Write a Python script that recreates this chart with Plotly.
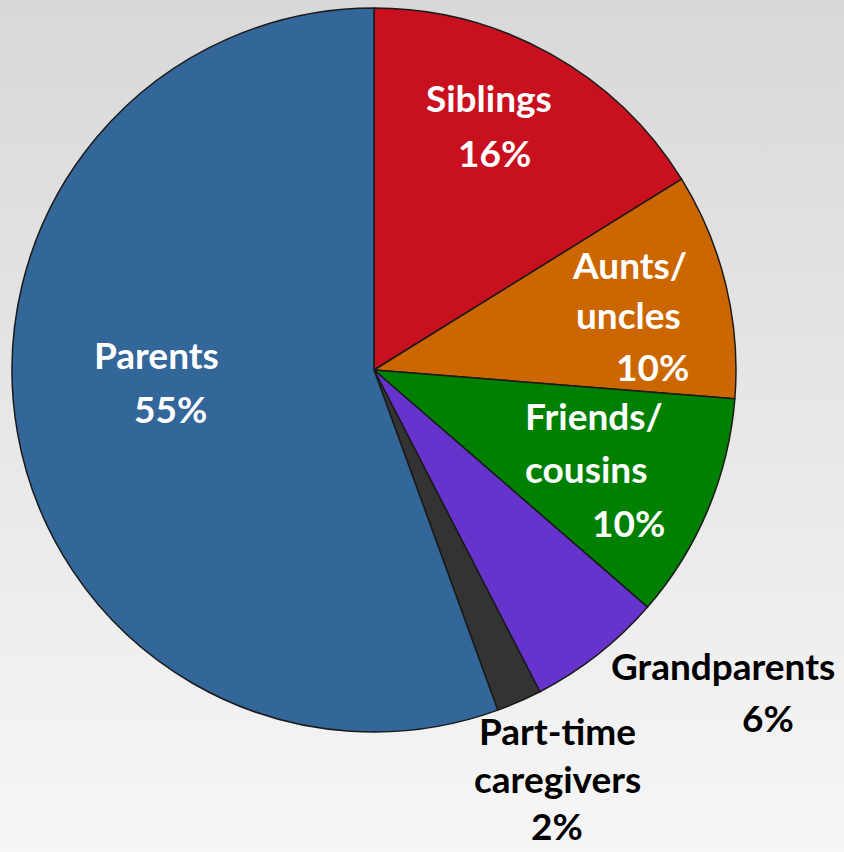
import plotly.graph_objects as go

# ---- data ----
categories = ["Siblings", "Aunts/uncles", "Friends/cousins", "Grandparents",
              "Part-time caregivers", "Parents"]
values = [16, 10, 10, 6, 2, 55]
label_lines = [["Siblings"], ["Aunts/", "uncles"], ["Friends/", "cousins"],
               ["Grandparents"], ["Part-time", "caregivers"], ["Parents"]]
slice_colors = ["#C8101F", "#CC6600", "#008000", "#6633CC", "#333333", "#336699"]
text_colors = ["white", "white", "white", "black", "black", "white"]

# ---- layout constants ----
W, H = 844, 852
cx, cy, R = 374, 370, 362
FONT = "Lato, 'Open Sans', sans-serif"
FS = 37
# pixel centres of each text line (name lines..., percent line)
line_pos = [
    [(489, 97), (494, 152)],
    [(629, 264), (628, 314), (652, 366)],
    [(594, 415), (586, 468), (628, 522)],
    [(723, 665), (768, 717)],
    [(557, 730), (557, 778), (557, 825)],
    [(156, 354), (170, 408)],
]

fig = go.Figure()

# gradient background
fig.add_trace(go.Scatter(
    x=[0, 1, 1, 0, 0], y=[0, 0, 1, 1, 0], mode="lines", fill="toself",
    line=dict(width=0), hoverinfo="skip", showlegend=False,
    fillgradient=dict(type="vertical",
                      colorscale=[[0, "#f6f6f6"], [1, "#d8d8d8"]]),
))

fig.add_trace(go.Pie(
    labels=categories, values=values, sort=False, direction="clockwise",
    rotation=0, textinfo="none", hoverinfo="label+percent",
    marker=dict(colors=slice_colors, line=dict(color="#1a1a1a", width=1.5)),
    domain=dict(x=[(cx - R) / W, (cx + R) / W],
                y=[1 - (cy + R) / H, 1 - (cy - R) / H]),
    showlegend=False,
))

annotations = []
for lines, v, tc, pos in zip(label_lines, values, text_colors, line_pos):
    texts = lines + [f"{v}%"]
    for t, (px, py) in zip(texts, pos):
        annotations.append(dict(
            x=px / W, y=1 - py / H, xref="paper", yref="paper",
            text=f"<b>{t}</b>", showarrow=False, xanchor="center", yanchor="middle",
            font=dict(family=FONT, size=FS, color=tc),
        ))

fig.update_layout(
    width=W, height=H, margin=dict(l=0, r=0, t=0, b=0),
    paper_bgcolor="#e6e6e6", plot_bgcolor="rgba(0,0,0,0)",
    xaxis=dict(range=[0, 1], visible=False, domain=[0, 1], fixedrange=True),
    yaxis=dict(range=[0, 1], visible=False, domain=[0, 1], fixedrange=True),
    annotations=annotations,
)

fig.write_html("out.html", config={"displayModeBar": False},
               post_script="document.body.style.margin='0';document.body.style.overflow='hidden';")
